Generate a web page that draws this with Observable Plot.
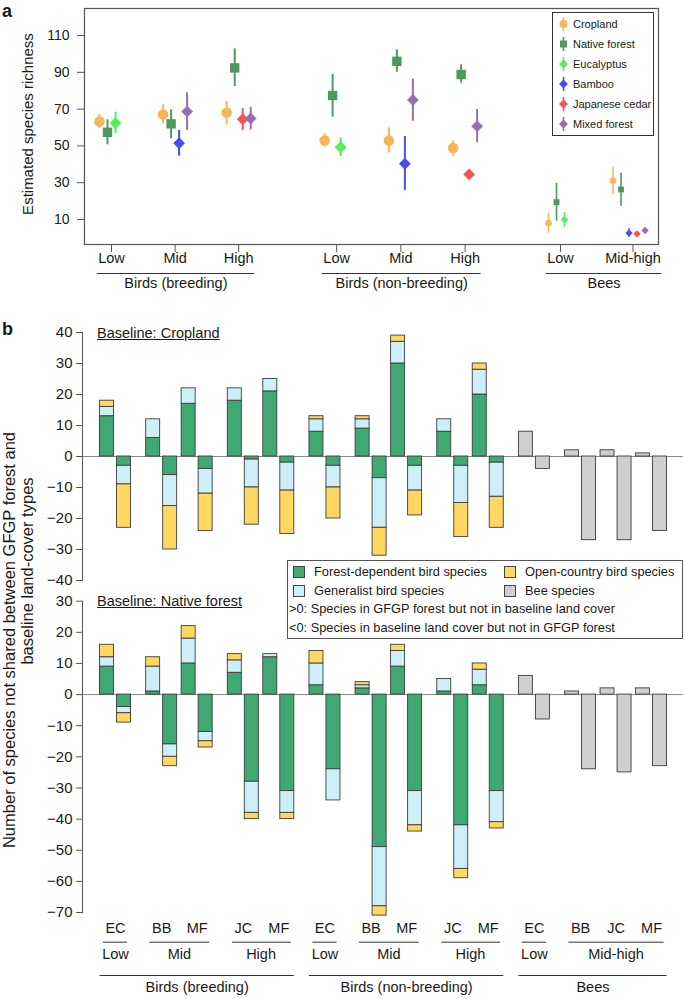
<!DOCTYPE html>
<html>
<head>
<meta charset="utf-8">
<script src="https://cdn.jsdelivr.net/npm/d3@7"></script>
<script src="https://cdn.jsdelivr.net/npm/@observablehq/plot@0.6"></script>
<style>
  html, body { margin: 0; padding: 0; background: #fff; }
  #root { position: relative; width: 685px; height: 999px; overflow: hidden;
          font-family: "Liberation Sans", Arial, Helvetica, sans-serif; color: #1a1a1a; }
  #root > svg { position: absolute; left: 0; overflow: visible; }
  .lbl { position: absolute; white-space: nowrap; }
  .rot { position: absolute; white-space: nowrap; transform: translate(-50%, -50%) rotate(-90deg); }
</style>
</head>
<body>
<div id="root"></div>
<script>
// ---------------- DATA: panel a (estimated species richness) ----------------
const landCovers = ["Cropland", "Native forest", "Eucalyptus", "Bamboo", "Japanese cedar", "Mixed forest"];
const coverColors = ["#F8B65B", "#4E9A5B", "#55EE5E", "#4B4BEE", "#F2525A", "#9A6DB3"];
const coverSymbols = ["circle", "square", "diamond2", "diamond2", "diamond2", "diamond2"];
const taxa = ["Birds (breeding)", "Birds (non-breeding)", "Bees"];
const richGroupLevel = ["Low", "Mid", "High", "Low", "Mid", "High", "Low", "Mid-high"];
const richGroupTaxon = [0, 0, 0, 1, 1, 1, 2, 2];
const richGroup = [0,0,0, 1,1,1,1, 2,2,2,2, 3,3,3, 4,4,4,4, 5,5,5,5, 6,6,6, 7,7,7,7,7];
const richCover = [
  "Cropland","Native forest","Eucalyptus",
  "Cropland","Native forest","Bamboo","Mixed forest",
  "Cropland","Native forest","Japanese cedar","Mixed forest",
  "Cropland","Native forest","Eucalyptus",
  "Cropland","Native forest","Bamboo","Mixed forest",
  "Cropland","Native forest","Japanese cedar","Mixed forest",
  "Cropland","Native forest","Eucalyptus",
  "Cropland","Native forest","Bamboo","Japanese cedar","Mixed forest"
];
const richMean = [63.3,57.4,62.4, 67.1,62.0,51.5,68.7, 68.2,92.4,64.5,64.9, 52.9,77.4,49.3, 52.9,96.0,40.3,75.0, 48.8,88.8,34.5,60.7, 8.0,19.4,10.0, 31.0,26.3,2.6,2.2,4.0];
const richLow  = [59.5,50.6,56.9, 62.0,53.9,44.4,58.4, 61.4,82.3,58.4,58.7, 49.3,65.6,44.2, 46.2,90.1,25.8,63.4, 44.4,84.1,33.6,51.7, 2.6,9.1,5.8, 23.6,17.2,0.4,1.3,3.0];
const richHigh = [67.0,64.2,68.3, 72.3,69.6,58.4,78.9, 74.3,102.8,70.2,71.0, 56.6,88.8,54.4, 59.8,102.2,55.1,86.3, 52.6,94.1,35.4,69.8, 13.4,29.7,13.8, 38.1,35.2,4.9,3.1,5.0];
const richTicks = [10, 30, 50, 70, 90, 110];

// ---------------- DATA: panel b (species not shared) ----------------
const pairTaxon = [0,0,0,0,0, 1,1,1,1,1, 2,2,2,2];
const pairLevel = ["Low","Mid","Mid","High","High", "Low","Mid","Mid","High","High", "Low","Mid-high","Mid-high","Mid-high"];
const pairCover = ["EC","BB","MF","JC","MF", "EC","BB","MF","JC","MF", "EC","BB","JC","MF"];
const guilds = ["Forest-dependent bird species", "Generalist bird species", "Open-country bird species", "Bee species"];
const guildColors = ["#40A873", "#CDEFF8", "#FFD761", "#CFCFCF"];
// Baseline: Cropland (bird pairs, in pair order)
const cropGainForest     = [13, 6, 17, 18, 21, 8, 9, 30, 8, 20];
const cropGainGeneralist = [3, 6, 5, 4, 4, 4, 3, 7, 4, 8];
const cropGainOpen       = [2, 0, 0, 0, 0, 1, 1, 2, 0, 2];
const cropLossForest     = [-3, -6, -4, -1, -2, -3, -7, -3, -3, -2];
const cropLossGeneralist = [-6, -10, -8, -9, -9, -7, -16, -8, -12, -11];
const cropLossOpen       = [-14, -14, -12, -12, -14, -10, -9, -8, -11, -10];
const cropBeeGain = [8, 2, 2, 1];
const cropBeeLoss = [-4, -27, -27, -24];
// Baseline: Native forest
const natGainForest     = [9, 1, 10, 7, 12, 3, 2, 9, 1, 3];
const natGainGeneralist = [3, 8, 8, 4, 1, 7, 1, 5, 4, 5];
const natGainOpen       = [4, 3, 4, 2, 0, 4, 1, 2, 0, 2];
const natLossForest     = [-4, -16, -12, -28, -31, -24, -49, -31, -42, -31];
const natLossGeneralist = [-2, -4, -3, -10, -7, -10, -19, -11, -14, -10];
const natLossOpen       = [-3, -3, -2, -2, -2, 0, -3, -2, -3, -2];
const natBeeGain = [6, 1, 2, 2];
const natBeeLoss = [-8, -24, -25, -23];
const cropTicks = [40, 30, 20, 10, 0, -10, -20, -30, -40];
const natTicks = [30, 20, 10, 0, -10, -20, -30, -40, -50, -60, -70];

// ---------------- LAYOUT ----------------
const FONT = '"Liberation Sans", Arial, Helvetica, sans-serif';
const root = document.getElementById("root");
const ctx = document.createElement("canvas").getContext("2d");
function textW(s, size) { ctx.font = `${size}px "Liberation Sans", Arial`; return ctx.measureText(s).width; }

// panel a layout: group slots (ordinal positions with gaps between taxa)
const richGroupSlot = [0, 1, 2, 3.54, 4.55, 5.56, 7.06, 8.2];
const UA = 63.6, A_TICK0 = 111, A_LEFT = 84, A_RIGHT = 658;
const DODGE = 8 / UA;

const richRows = richMean.map((m, i) => ({group: richGroup[i], cover: richCover[i], mean: m, lo: richLow[i], hi: richHigh[i]}));
for (const [g, rows] of d3.group(richRows, d => d.group)) {
  const c = rows.length >= 5 ? 2.5 : 1.5;
  rows.forEach((r, i) => { r.x = richGroupSlot[g] + (i - c) * DODGE; r.bees = richGroupTaxon[g] === 2; });
}
const birdRows = richRows.filter(d => !d.bees);
const beeRows = richRows.filter(d => d.bees);
const levelLabelsA = richGroupLevel.map((l, g) => ({x: richGroupSlot[g], text: l}));
const taxonSpansA = taxa.map((t, ti) => {
  const gs = richGroupTaxon.map((tt, g) => tt === ti ? g : -1).filter(g => g >= 0);
  const g0 = gs[0], g1 = gs[gs.length - 1];
  const x1 = richGroupSlot[g0] - (textW(richGroupLevel[g0], 14.5) / 2 + 1) / UA;
  const x2 = richGroupSlot[g1] + (textW(richGroupLevel[g1], 14.5) / 2 + 1) / UA;
  return {taxon: t, x1, x2, mid: (x1 + x2) / 2};
});
const yDomA = [-3.6, 124.7];

const plotA = Plot.plot({
  width: 685, height: 300,
  marginLeft: A_LEFT, marginRight: 685 - A_RIGHT, marginTop: 8, marginBottom: 56,
  style: {fontSize: "14px", fontFamily: FONT, color: "#1a1a1a", background: "transparent"},
  x: {type: "linear", domain: [(A_LEFT - A_TICK0) / UA, (A_RIGHT - A_TICK0) / UA], axis: null},
  y: {domain: yDomA, axis: null},
  color: {domain: landCovers, range: coverColors},
  symbol: {domain: landCovers, range: coverSymbols},
  marks: [
    Plot.frame({stroke: "#555", strokeWidth: 1.2}),
    Plot.axisY(richTicks, {tickSize: 7, tickPadding: 8, label: null, stroke: "#555", fontSize: 14}),
    Plot.axisX(richGroupSlot, {tickSize: 8, tickFormat: () => "", label: null, stroke: "#555"}),
    Plot.ruleX(birdRows, {x: "x", y1: "lo", y2: "hi", stroke: "cover", strokeWidth: 2}),
    Plot.ruleX(beeRows, {x: "x", y1: "lo", y2: "hi", stroke: "cover", strokeWidth: 1.6}),
    Plot.dot(birdRows, {x: "x", y: "mean", symbol: "cover", fill: "cover", r: 5.3}),
    Plot.dot(beeRows, {x: "x", y: "mean", symbol: "cover", fill: "cover", r: 3.3}),
    Plot.text(levelLabelsA, {x: "x", text: "text", frameAnchor: "bottom", dy: 18, fontSize: 14.5}),
    Plot.ruleY(taxonSpansA, {y: () => yDomA[0], x1: "x1", x2: "x2", dy: 29, stroke: "#333", strokeWidth: 1}),
    Plot.text(taxonSpansA, {x: "mid", text: "taxon", frameAnchor: "bottom", dy: 43, fontSize: 14.5})
  ]
});
plotA.style.top = "0px";
root.appendChild(plotA);

// panel b layout
const SB = 35.5, B_PAIR0 = 115, B_LEFT = 82, B_RIGHT = 683;
const LEVEL_GAP = 0.3, BAR_W = 14 / SB, HALF_GAP = 1.5 / SB;
let lvlIdx = -1, prevKey = null;
const pairs = pairCover.map((c, i) => {
  const key = pairTaxon[i] + "|" + pairLevel[i];
  if (key !== prevKey) { lvlIdx++; prevKey = key; }
  return {cover: c, taxon: pairTaxon[i], level: pairLevel[i], lvl: lvlIdx, pos: i + lvlIdx * LEVEL_GAP};
});
const nBirdPairs = pairTaxon.filter(t => t < 2).length;

function buildSegments(gF, gG, gO, lF, lG, lO, bGain, bLoss) {
  const segs = [];
  pairs.forEach((p, i) => {
    const gx1 = p.pos - HALF_GAP - BAR_W, gx2 = p.pos - HALF_GAP;
    const lx1 = p.pos + HALF_GAP, lx2 = p.pos + HALF_GAP + BAR_W;
    let gains, losses;
    if (p.taxon < 2) {
      gains = [[guilds[0], gF[i]], [guilds[1], gG[i]], [guilds[2], gO[i]]];
      losses = [[guilds[0], lF[i]], [guilds[1], lG[i]], [guilds[2], lO[i]]];
    } else {
      const j = i - nBirdPairs;
      gains = [[guilds[3], bGain[j]]];
      losses = [[guilds[3], bLoss[j]]];
    }
    let c = 0;
    for (const [g, v] of gains) { if (v) segs.push({x1: gx1, x2: gx2, y1: c, y2: c + v, guild: g}); c += v; }
    c = 0;
    for (const [g, v] of losses) { if (v) segs.push({x1: lx1, x2: lx2, y1: c, y2: c + v, guild: g}); c += v; }
  });
  return segs;
}

const levelGroupsB = Array.from(d3.group(pairs, d => d.lvl).values()).map(ps => {
  const f = ps[0], l = ps[ps.length - 1];
  return {
    level: f.level,
    mid: (f.pos + l.pos) / 2,
    x1: f.pos - (textW(f.cover, 14.5) / 2 + 2) / SB,
    x2: l.pos + (textW(l.cover, 14.5) / 2 + 2) / SB
  };
});
const taxonSpansB = taxa.map((t, ti) => {
  const ps = pairs.filter(p => p.taxon === ti);
  const x1 = ps[0].pos - HALF_GAP - BAR_W, x2 = ps[ps.length - 1].pos + HALF_GAP + BAR_W;
  return {taxon: t, x1, x2, mid: (x1 + x2) / 2};
});

function plotB({segs, yDomain, ticks, height, marginTop, marginBottom, extra}) {
  return Plot.plot({
    width: 685, height, marginLeft: B_LEFT, marginRight: 685 - B_RIGHT, marginTop, marginBottom,
    style: {fontSize: "15px", fontFamily: FONT, color: "#1a1a1a", background: "transparent"},
    x: {type: "linear", domain: [(B_LEFT - B_PAIR0) / SB, (B_RIGHT - B_PAIR0) / SB], axis: null},
    y: {domain: yDomain, axis: null},
    color: {domain: guilds, range: guildColors},
    marks: [
      Plot.ruleY([0], {stroke: "#888", strokeWidth: 1}),
      Plot.rect(segs, {x1: "x1", x2: "x2", y1: "y1", y2: "y2", fill: "guild", stroke: "#3d3d3d", strokeWidth: 0.9}),
      Plot.frame({anchor: "left", stroke: "#555", strokeWidth: 1}),
      Plot.axisY(ticks, {tickSize: 6, tickPadding: 4, label: null, stroke: "#555"}),
      ...(extra || [])
    ]
  });
}

const segsCrop = buildSegments(cropGainForest, cropGainGeneralist, cropGainOpen, cropLossForest, cropLossGeneralist, cropLossOpen, cropBeeGain, cropBeeLoss);
const segsNat = buildSegments(natGainForest, natGainGeneralist, natGainOpen, natLossForest, natLossGeneralist, natLossOpen, natBeeGain, natBeeLoss);

const plotB1 = plotB({segs: segsCrop, yDomain: [-40, 40], ticks: cropTicks, height: 270, marginTop: 12, marginBottom: 10});
plotB1.style.top = "320px";
root.appendChild(plotB1);

const yMinB2 = -70;
const plotB2 = plotB({
  segs: segsNat, yDomain: [yMinB2, 30], ticks: natTicks, height: 409, marginTop: 10.7, marginBottom: 87,
  extra: [
    Plot.text(pairs, {x: "pos", text: "cover", frameAnchor: "bottom", dy: 20, fontSize: 14.5}),
    Plot.ruleY(levelGroupsB, {y: () => yMinB2, x1: "x1", x2: "x2", dy: 29.7, stroke: "#333", strokeWidth: 1}),
    Plot.text(levelGroupsB, {x: "mid", text: "level", frameAnchor: "bottom", dy: 46, fontSize: 14.5}),
    Plot.ruleY(taxonSpansB, {y: () => yMinB2, x1: "x1", x2: "x2", dy: 63, stroke: "#333", strokeWidth: 1}),
    Plot.text(taxonSpansB, {x: "mid", text: "taxon", frameAnchor: "bottom", dy: 79.7, fontSize: 14.5})
  ]
});
plotB2.style.top = "590px";
root.appendChild(plotB2);

// ---------------- TEXT & LEGENDS ----------------
function addDiv(cls, text, css) {
  const d = document.createElement("div");
  d.className = cls; d.textContent = text; d.style.cssText += css;
  root.appendChild(d); return d;
}
addDiv("lbl", "a", "left:2px;top:2px;font-weight:bold;font-size:18px;line-height:18px;");
addDiv("lbl", "b", "left:2px;top:320px;font-weight:bold;font-size:18px;line-height:18px;");
addDiv("rot", "Estimated species richness", "left:27px;top:124px;font-size:15px;");
addDiv("rot", "Number of species not shared between GFGP forest and", "left:9px;top:640px;font-size:16.5px;");
addDiv("rot", "baseline land-cover types", "left:27px;top:571px;font-size:16.5px;");
addDiv("lbl", "Baseline: Cropland", "left:97px;top:324px;font-size:14.5px;line-height:18px;text-decoration:underline;");
addDiv("lbl", "Baseline: Native forest", "left:97px;top:592px;font-size:14.5px;line-height:18px;text-decoration:underline;");

// legend a
const symbolFor = {circle: d3.symbolCircle, square: d3.symbolSquare, diamond2: d3.symbolDiamond2};
const legA = document.createElement("div");
legA.className = "lbl";
legA.style.cssText += "left:552px;top:12px;width:102px;height:124px;border:1px solid #333;background:#fff;box-sizing:border-box;font-size:11px;";
landCovers.forEach((c, i) => {
  const row = document.createElement("div");
  row.style.cssText = `position:absolute;left:0;top:${10.5 + 20 * i - 9}px;height:18px;width:100px;`;
  const svg = d3.create("svg").attr("width", 20).attr("height", 18)
    .style("position", "absolute").style("left", "0px").style("top", "0px");
  svg.append("line").attr("x1", 10.5).attr("x2", 10.5).attr("y1", 2).attr("y2", 16)
    .attr("stroke", coverColors[i]).attr("stroke-width", 1.6);
  svg.append("path").attr("transform", "translate(10.5,9)")
    .attr("d", d3.symbol(symbolFor[coverSymbols[i]], Math.PI * 16)())
    .attr("fill", coverColors[i]);
  row.appendChild(svg.node());
  const t = document.createElement("span");
  t.textContent = c;
  t.style.cssText = "position:absolute;left:20px;top:0;line-height:18px;white-space:nowrap;";
  row.appendChild(t);
  legA.appendChild(row);
});
root.appendChild(legA);

// legend b
const legB = document.createElement("div");
legB.className = "lbl";
legB.style.cssText += "left:287px;top:560px;width:396px;height:79px;border:1px solid #555;background:#fff;box-sizing:border-box;font-size:12.8px;";
const legBItems = [
  {g: 0, x: 5, cy: 11}, {g: 2, x: 216, cy: 11},
  {g: 1, x: 5, cy: 30}, {g: 3, x: 216, cy: 30}
];
legBItems.forEach(it => {
  const sw = document.createElement("div");
  sw.style.cssText = `position:absolute;left:${it.x}px;top:${it.cy - 6}px;width:12px;height:12px;box-sizing:border-box;border:1px solid #444;background:${guildColors[it.g]};`;
  legB.appendChild(sw);
  const t = document.createElement("div");
  t.textContent = guilds[it.g];
  t.style.cssText = `position:absolute;left:${it.x + 21}px;top:${it.cy - 9}px;line-height:18px;white-space:nowrap;`;
  legB.appendChild(t);
});
[[">0: Species in GFGP forest but not in baseline land cover", 48], ["<0: Species in baseline land cover but not in GFGP forest", 67]].forEach(([s, cy]) => {
  const t = document.createElement("div");
  t.textContent = s;
  t.style.cssText = `position:absolute;left:1px;top:${cy - 9}px;line-height:18px;white-space:nowrap;`;
  legB.appendChild(t);
});
root.appendChild(legB);
</script>
</body>
</html>
